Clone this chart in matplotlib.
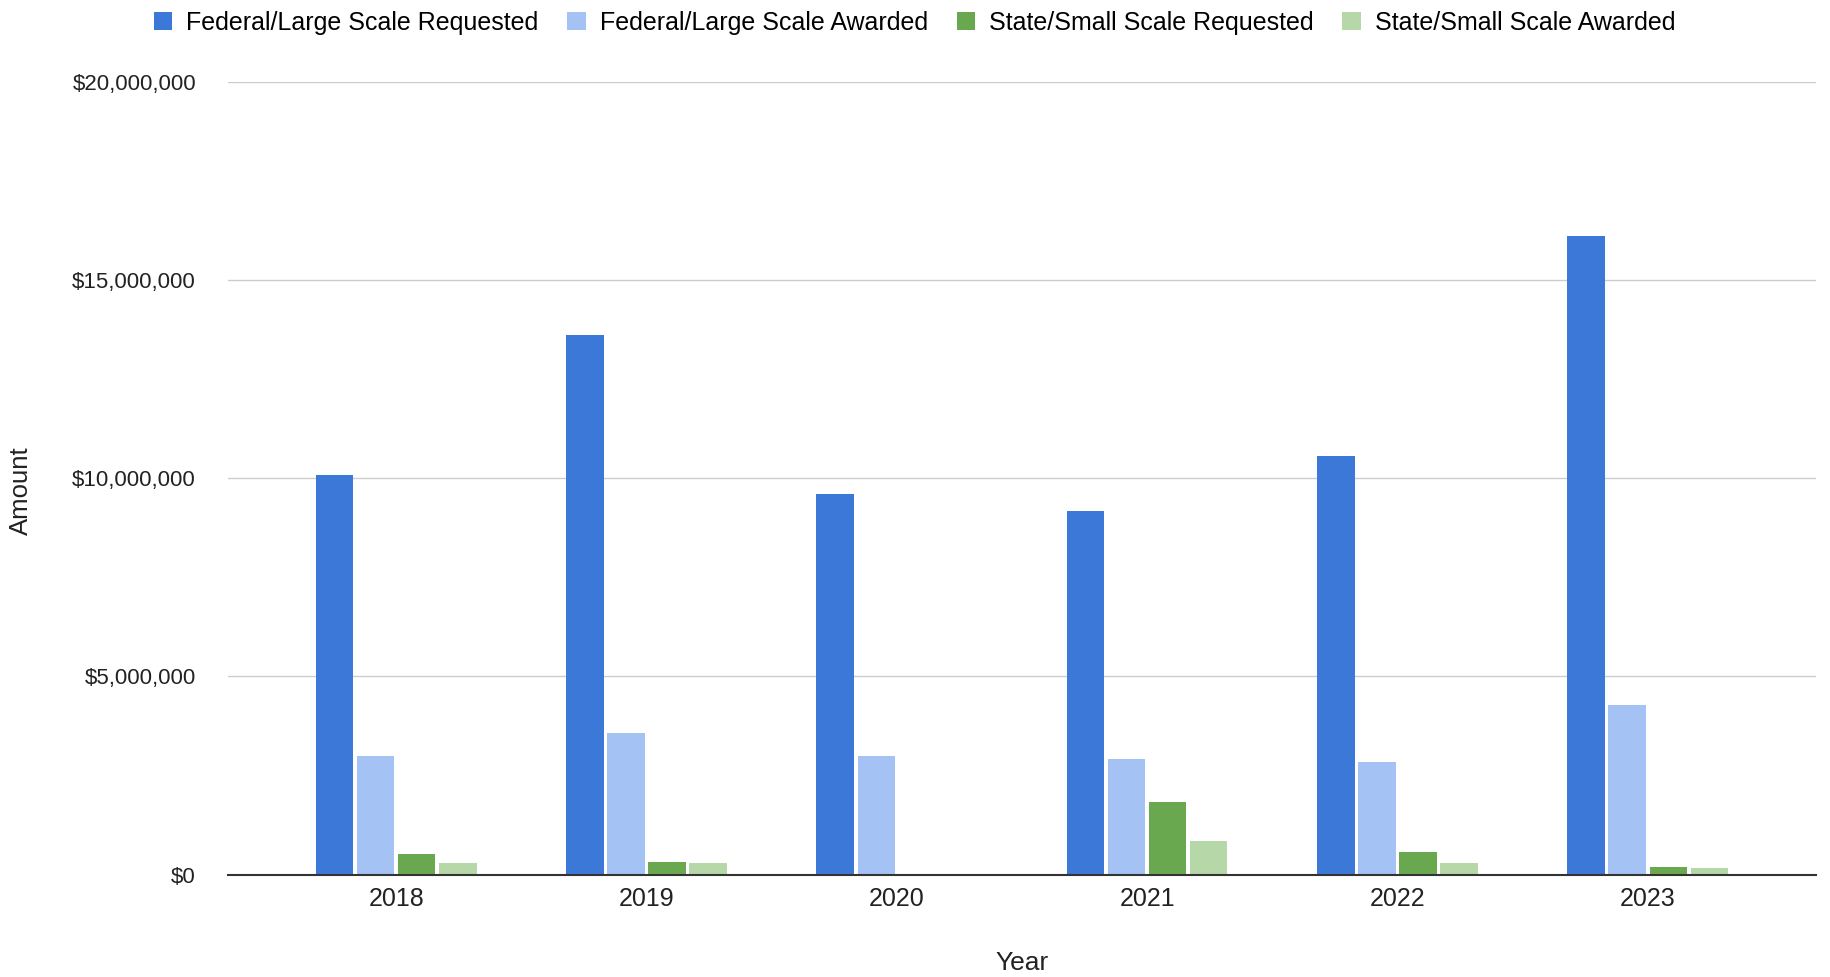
import matplotlib
matplotlib.use("Agg")
import matplotlib.pyplot as plt
import numpy as np
from matplotlib.ticker import FuncFormatter

# datos
years = ["2018", "2019", "2020", "2021", "2022", "2023"]
fed_requested = [10070000, 13600000, 9600000, 9160000, 10570000, 16100000]
fed_awarded = [3000000, 3560000, 2980000, 2910000, 2840000, 4280000]
state_requested = [530000, 330000, 0, 1840000, 560000, 200000]
state_awarded = [285000, 285000, 0, 840000, 285000, 160000]

series_names = ["Federal/Large Scale Requested", "Federal/Large Scale Awarded",
                "State/Small Scale Requested", "State/Small Scale Awarded"]
colores = ["#3c78d8", "#a4c2f4", "#6aa84f", "#b6d7a8"]

plt.rcParams['font.family'] = ['Liberation Sans', 'DejaVu Sans']

fig = plt.figure(figsize=(18.31, 9.77), dpi=100)
ax = fig.add_axes([0.1245, 0.1048, 0.8673, 0.8116])

x = np.arange(len(years))
paso = 0.164
ancho = 0.150
datos = [fed_requested, fed_awarded, state_requested, state_awarded]
for i, serie in enumerate(datos):
    ax.bar(x + (i - 1.5) * paso, serie, width=ancho, color=colores[i],
           label=series_names[i], zorder=3)

ax.set_xlim(-0.672, 5.672)
ax.set_ylim(0, 20000000)
ax.set_yticks([0, 5000000, 10000000, 15000000, 20000000])
ax.yaxis.set_major_formatter(FuncFormatter(lambda v, p: "${:,.0f}".format(v)))
ax.set_xticks(x)
ax.set_xticklabels(years)

ax.grid(axis='y', color='#cccccc', linewidth=1, zorder=0)
for s in ['top', 'right', 'left']:
    ax.spines[s].set_visible(False)
ax.spines['bottom'].set_color('#333333')
ax.spines['bottom'].set_linewidth(1.5)
ax.spines['bottom'].set_zorder(4)
ax.tick_params(axis='y', length=0, pad=23, labelsize=16, labelcolor='#222222')
ax.tick_params(axis='x', length=0, pad=9, labelsize=18, labelcolor='#222222')

# titulos de ejes centrados respecto al area de la grafica
fig.text(0.1245 + 0.8673 / 2, 0.0143, "Year", ha='center', va='center',
         fontsize=19, color='#222222')
fig.text(0.0115, 0.498, "Amount", ha='center', va='center', rotation=90,
         fontsize=18.5, color='#222222')

fig.legend(loc='upper center', bbox_to_anchor=(0.4995, 1.012), ncol=4, frameon=False,
           fontsize=18, handlelength=0.75, handleheight=0.75, handletextpad=0.55,
           columnspacing=1.15)

fig.savefig("out.png", dpi=100)
